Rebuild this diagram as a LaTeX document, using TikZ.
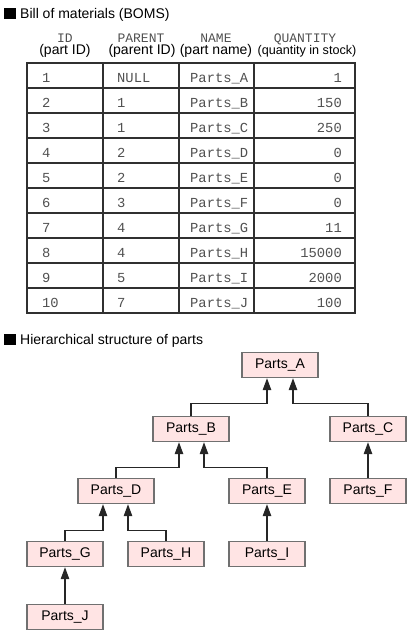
\documentclass[tikz,border=0pt]{standalone}
\usepackage{fontspec}
\setmainfont{Liberation Sans}
\setmonofont{Liberation Mono}
\usetikzlibrary{arrows.meta,calc}
\definecolor{boxfill}{HTML}{FFE4E4}
\definecolor{boxline}{HTML}{707070}
\definecolor{monotext}{HTML}{505050}
\definecolor{tabline}{HTML}{303030}
\begin{document}
\begin{tikzpicture}[x=1pt,y=-1pt,
  ttl/.style={anchor=base west,inner sep=0pt,font=\fontsize{14}{16}\selectfont},
  sq/.style={fill=black},
  hmono/.style={anchor=base,inner sep=0pt,text=monotext,font=\ttfamily\fontsize{13}{15}\selectfont},
  hsans/.style={anchor=base,inner sep=0pt,font=\fontsize{14}{16}\selectfont},
  cl/.style={anchor=base west,inner sep=0pt,text=monotext,font=\ttfamily\fontsize{13.8}{16}\selectfont},
  cr/.style={anchor=base east,inner sep=0pt,text=monotext,font=\ttfamily\fontsize{13.8}{16}\selectfont},
  tline/.style={draw=tabline,line width=1.3pt},
  part/.style={draw=boxline,line width=1.4pt,fill=boxfill,minimum width=76pt,minimum height=25pt,inner sep=0pt,font=\fontsize{14}{16}\selectfont},
  conn/.style={draw=black!85,line width=1.2pt,-{Triangle[length=12pt,width=8.5pt]}}
]
\useasboundingbox (0,0) rectangle (409,633);
% titles
\fill[sq] (4,8) rectangle (16,19);
\node[ttl] (t1) at (20,18) {Bill of materials (BOMS)};
\fill[sq] (4,334) rectangle (16,345);
\node[ttl] (t2) at (20,344) {Hierarchical structure of parts};
% headers
\node[hmono] (h1a) at (65,42) {ID};
\node[hsans] (h1b) at (65,54) {(part ID)};
\node[hmono] (h2a) at (141,42) {PARENT};
\node[hsans] (h2b) at (142,54) {(parent ID)};
\node[hmono] (h3a) at (216,42) {NAME};
\node[hsans] (h3b) at (216,54) {(part name)};
\node[hmono] (h4a) at (305,42) {QUANTITY};
\node[hsans,font=\fontsize{12.6}{15}\selectfont] (h4b) at (307,54) {(quantity in stock)};
% table grid
\draw[tline] (27,63) rectangle (355,313);
\foreach \yy in {88,113,...,288} \draw[tline] (27,\yy) -- (355,\yy);
\foreach \xx in {103,179,254} \draw[tline] (\xx,63) -- (\xx,313);
% rows
\foreach \i/\p/\n/\q [count=\r from 0] in {1/NULL/A/1,2/1/B/150,3/1/C/250,4/2/D/0,5/2/E/0,6/3/F/0,7/4/G/11,8/4/H/15000,9/5/I/2000,10/7/J/100}{
  \node[cl] (id\r) at (42,82.5+25*\r) {\i};
  \node[cl] (pa\r) at (117,82.5+25*\r) {\p};
  \node[cl] (nm\r) at (190,82.5+25*\r) {Parts\_\n};
  \node[cr] (qt\r) at (342,82.5+25*\r) {\q};
}
% hierarchy
\node[part] (A) at (280,365) {Parts\_A};
\node[part] (B) at (191,429) {Parts\_B};
\node[part] (C) at (368,429) {Parts\_C};
\node[part] (D) at (116,491) {Parts\_D};
\node[part] (E) at (267,491) {Parts\_E};
\node[part] (F) at (368,491) {Parts\_F};
\node[part] (G) at (65,554) {Parts\_G};
\node[part] (H) at (166,554) {Parts\_H};
\node[part] (I) at (267,554) {Parts\_I};
\node[part] (J) at (65,617) {Parts\_J};
% connectors
\draw[conn] (B.north) |- ($(A.south)+(-13,25)$) -- ($(A.south)+(-13,0)$);
\draw[conn] (C.north) |- ($(A.south)+(13,25)$) -- ($(A.south)+(13,0)$);
\draw[conn] (D.north) |- ($(B.south)+(-12,25)$) -- ($(B.south)+(-12,0)$);
\draw[conn] (E.north) |- ($(B.south)+(13,25)$) -- ($(B.south)+(13,0)$);
\draw[conn] (F.north) -- (C.south);
\draw[conn] (G.north) |- ($(D.south)+(-13,26)$) -- ($(D.south)+(-13,0)$);
\draw[conn] (H.north) |- ($(D.south)+(12,26)$) -- ($(D.south)+(12,0)$);
\draw[conn] (I.north) -- (E.south);
\draw[conn] (J.north) -- (G.south);
\end{tikzpicture}
\end{document}
